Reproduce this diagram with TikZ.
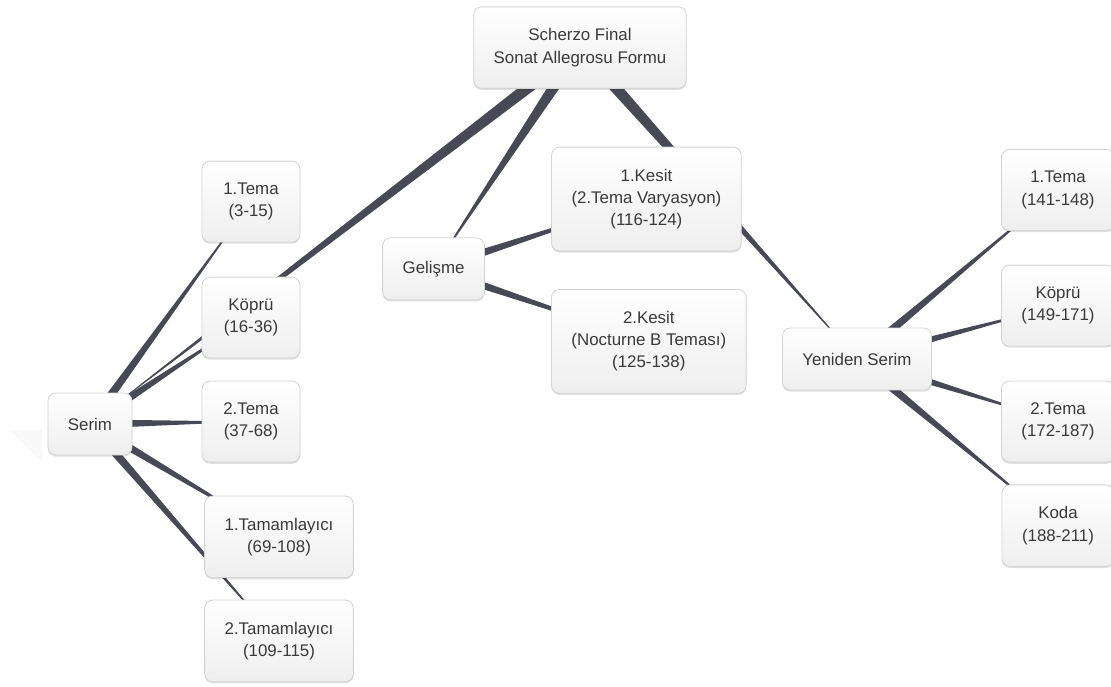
\documentclass[tikz,border=0pt]{standalone}
\usepackage{fontspec}
\setmainfont{Liberation Sans}
\usetikzlibrary{positioning, calc, backgrounds, shadows}
\definecolor{kenar}{HTML}{D4D4D4}
\definecolor{baglanti}{HTML}{474A55}
\definecolor{yazi}{HTML}{3A3A3A}
\tikzstyle{kutu} = [
rectangle, rounded corners=0.2cm, draw=kenar, line width=0.6pt,
top color=white, bottom color=gray!13, align=center, text=yazi,
inner xsep=0.5cm, inner ysep=15.5pt, minimum height=1.55cm,
font=\fontsize{12}{15.8}\selectfont,
drop shadow={shadow xshift=0pt, shadow yshift=-1.2pt, fill=black, opacity=0.12}
]
\tikzstyle{kutu_L} = [kutu, minimum width=2.45cm]
\tikzstyle{kutu_R} = [kutu, minimum width=2.8cm]
% tapered branch: thick at parent, thin at child
\newcommand{\dal}[3]{\fill[baglanti] ($(#1.center)!#3!90:(#2.center)$) -- ($(#1.center)!#3!-90:(#2.center)$) -- (#2.center) -- cycle;}

\begin{document}
\begin{tikzpicture}[node distance=2.6cm]
	\useasboundingbox (0,0) rectangle (27.775,-17.15);
	\fill[gray!5] (0.25,-10.75) -- (1.05,-10.75) -- (1.05,-11.55) -- cycle;

	% Ana node
	\node (Kok) [kutu] at (14.5,-1.19) {Scherzo Final\\Sonat Allegrosu Formu};

	% Serim
	\node (Serim) [kutu] at (2.25,-10.6) {Serim};
	\node (S_Tema1) [kutu_L] at (6.275,-5.04) {1.Tema\\(3-15)};
	\node (S_Kopru) [kutu_L, below of=S_Tema1, yshift=-0.3cm] {Köprü\\(16-36)};
	\node (S_Tema2) [kutu_L, below of=S_Kopru] {2.Tema\\(37-68)};
	\node (S_Tam1) [kutu, below of=S_Tema2, xshift=0.7cm, yshift=-0.28cm] {1.Tamamlayıcı\\(69-108)};
	\node (S_Tam2) [kutu, below of=S_Tam1] {2.Tamamlayıcı\\(109-115)};

	% Gelisme
	\node (Gelisme) [kutu] at (10.84,-6.72) {Gelişme};
	\node (G_Kesit1) [kutu] at (16.16,-4.975) {1.Kesit\\(2.Tema Varyasyon)\\(116-124)};
	\node (G_Kesit2) [kutu, below of=G_Kesit1, xshift=0.06cm, yshift=-0.96cm] {2.Kesit\\(Nocturne B Teması)\\(125-138)};

	% Yeniden Serim
	\node (YSerim) [kutu] at (21.425,-8.975) {Yeniden Serim};
	\node (Y_Tema1) [kutu_R] at (26.45,-4.75) {1.Tema\\(141-148)};
	\node (Y_Kopru) [kutu_R, below of=Y_Tema1, yshift=-0.29cm] {Köprü\\(149-171)};
	\node (Y_Tema2) [kutu_R, below of=Y_Kopru, yshift=-0.3cm] {2.Tema\\(172-187)};
	\node (Y_Koda) [kutu_R, below of=Y_Tema2] {Koda\\(188-211)};

	% Connections
	\begin{pgfonlayer}{background}
		\dal{Kok}{Serim}{0.16cm}
		\dal{Kok}{Gelisme}{0.16cm}
		\dal{Kok}{YSerim}{0.16cm}

		\dal{Serim}{S_Tema1}{0.115cm}
		\dal{Serim}{S_Kopru}{0.115cm}
		\dal{Serim}{S_Tema2}{0.115cm}
		\dal{Serim}{S_Tam1}{0.115cm}
		\dal{Serim}{S_Tam2}{0.115cm}

		\dal{Gelisme}{G_Kesit1}{0.115cm}
		\dal{Gelisme}{G_Kesit2}{0.115cm}

		\dal{YSerim}{Y_Tema1}{0.115cm}
		\dal{YSerim}{Y_Kopru}{0.115cm}
		\dal{YSerim}{Y_Tema2}{0.115cm}
		\dal{YSerim}{Y_Koda}{0.115cm}
	\end{pgfonlayer}

\end{tikzpicture}
\end{document}
